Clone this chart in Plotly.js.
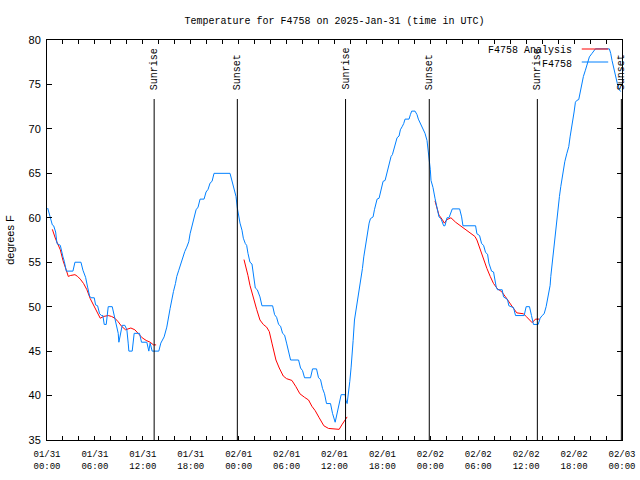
<!DOCTYPE html>
<html><head><meta charset="utf-8">
<script src="https://cdn.plot.ly/plotly-3.0.1.min.js"></script>
<style>html,body{margin:0;padding:0;background:#fff}#chart{width:640px;height:480px}</style>
</head><body><div id="chart"></div>
<script>
// ---- Data ----
const blueTime = [
"2025-01-31 00:05","2025-01-31 00:20","2025-01-31 00:40","2025-01-31 00:50","2025-01-31 01:05","2025-01-31 01:15","2025-01-31 01:40","2025-01-31 02:00","2025-01-31 02:10","2025-01-31 02:25",
"2025-01-31 03:15","2025-01-31 03:30","2025-01-31 04:15","2025-01-31 04:30","2025-01-31 04:50","2025-01-31 05:05","2025-01-31 05:20","2025-01-31 05:30","2025-01-31 05:55","2025-01-31 06:05",
"2025-01-31 06:20","2025-01-31 06:35","2025-01-31 06:50","2025-01-31 07:00","2025-01-31 07:10","2025-01-31 07:25","2025-01-31 07:40","2025-01-31 08:10","2025-01-31 08:25","2025-01-31 08:40",
"2025-01-31 08:55","2025-01-31 09:00","2025-01-31 09:15","2025-01-31 09:25","2025-01-31 09:45","2025-01-31 10:00","2025-01-31 10:10","2025-01-31 10:15","2025-01-31 10:40","2025-01-31 10:55",
"2025-01-31 11:35","2025-01-31 11:50","2025-01-31 12:30","2025-01-31 12:45","2025-01-31 12:55","2025-01-31 13:10","2025-01-31 14:00","2025-01-31 14:15","2025-01-31 14:40","2025-01-31 15:00",
"2025-01-31 15:25","2025-01-31 15:35","2025-01-31 15:50","2025-01-31 16:05","2025-01-31 16:15","2025-01-31 16:30","2025-01-31 16:45","2025-01-31 17:00","2025-01-31 17:15","2025-01-31 17:30",
"2025-01-31 17:45","2025-01-31 17:55","2025-01-31 18:10","2025-01-31 18:25","2025-01-31 18:40","2025-01-31 18:55","2025-01-31 19:10","2025-01-31 19:40","2025-01-31 19:55","2025-01-31 20:10",
"2025-01-31 20:25","2025-01-31 20:40","2025-01-31 20:55","2025-01-31 22:55","2025-01-31 23:10","2025-01-31 23:25","2025-01-31 23:40","2025-01-31 23:50",
"2025-02-01 00:00","2025-02-01 00:10","2025-02-01 00:25","2025-02-01 00:35","2025-02-01 00:50","2025-02-01 01:00","2025-02-01 01:10","2025-02-01 01:25","2025-02-01 01:40","2025-02-01 01:50",
"2025-02-01 02:05","2025-02-01 02:20","2025-02-01 02:40","2025-02-01 02:55","2025-02-01 04:15","2025-02-01 04:30","2025-02-01 04:45","2025-02-01 05:00","2025-02-01 05:15","2025-02-01 05:30",
"2025-02-01 05:45","2025-02-01 06:00","2025-02-01 06:15","2025-02-01 06:30","2025-02-01 07:30","2025-02-01 07:45","2025-02-01 08:00","2025-02-01 08:15","2025-02-01 09:00","2025-02-01 09:15",
"2025-02-01 09:45","2025-02-01 10:00","2025-02-01 10:15","2025-02-01 10:30","2025-02-01 10:45","2025-02-01 11:00","2025-02-01 11:30","2025-02-01 11:45","2025-02-01 12:05","2025-02-01 12:20",
"2025-02-01 12:35","2025-02-01 12:50","2025-02-01 13:20","2025-02-01 13:25","2025-02-01 13:35","2025-02-01 13:45","2025-02-01 13:55","2025-02-01 14:05","2025-02-01 14:10","2025-02-01 14:20",
"2025-02-01 14:30","2025-02-01 14:40","2025-02-01 14:50","2025-02-01 15:00","2025-02-01 15:10","2025-02-01 15:20","2025-02-01 15:30","2025-02-01 15:40","2025-02-01 15:50","2025-02-01 16:00",
"2025-02-01 16:10","2025-02-01 16:20","2025-02-01 16:30","2025-02-01 16:50","2025-02-01 17:00","2025-02-01 17:10","2025-02-01 17:20","2025-02-01 17:35","2025-02-01 17:45","2025-02-01 17:55",
"2025-02-01 18:05","2025-02-01 18:20","2025-02-01 18:30","2025-02-01 18:40","2025-02-01 18:50","2025-02-01 19:05","2025-02-01 19:15","2025-02-01 19:25","2025-02-01 19:40","2025-02-01 19:50",
"2025-02-01 20:05","2025-02-01 20:15","2025-02-01 20:30","2025-02-01 20:40","2025-02-01 20:50","2025-02-01 21:20","2025-02-01 21:30","2025-02-01 21:40","2025-02-01 22:05","2025-02-01 22:20",
"2025-02-01 22:30","2025-02-01 22:40","2025-02-01 22:50","2025-02-01 23:05","2025-02-01 23:20","2025-02-01 23:35","2025-02-01 23:45","2025-02-01 23:50",
"2025-02-02 00:00","2025-02-02 00:05","2025-02-02 00:20","2025-02-02 00:35","2025-02-02 00:50","2025-02-02 01:05","2025-02-02 01:20","2025-02-02 01:35","2025-02-02 01:40","2025-02-02 01:50",
"2025-02-02 02:05","2025-02-02 02:20","2025-02-02 02:35","2025-02-02 02:45","2025-02-02 03:40","2025-02-02 03:55","2025-02-02 04:05","2025-02-02 05:40","2025-02-02 05:50","2025-02-02 06:10",
"2025-02-02 06:25","2025-02-02 06:40","2025-02-02 06:55","2025-02-02 07:10","2025-02-02 07:20","2025-02-02 07:40","2025-02-02 07:55","2025-02-02 08:05","2025-02-02 08:15","2025-02-02 08:25",
"2025-02-02 09:00","2025-02-02 09:10","2025-02-02 09:40","2025-02-02 09:50","2025-02-02 10:25","2025-02-02 10:40","2025-02-02 11:45","2025-02-02 12:00","2025-02-02 12:25","2025-02-02 12:40",
"2025-02-02 12:55","2025-02-02 13:30","2025-02-02 13:45","2025-02-02 14:00","2025-02-02 14:15","2025-02-02 14:30","2025-02-02 14:45","2025-02-02 15:00","2025-02-02 15:05","2025-02-02 15:15",
"2025-02-02 15:25","2025-02-02 15:40","2025-02-02 15:50","2025-02-02 16:00","2025-02-02 16:10","2025-02-02 16:20","2025-02-02 16:30","2025-02-02 16:40","2025-02-02 16:50","2025-02-02 17:05",
"2025-02-02 17:20","2025-02-02 17:30","2025-02-02 17:40","2025-02-02 17:50","2025-02-02 18:00","2025-02-02 18:10","2025-02-02 18:20","2025-02-02 18:35","2025-02-02 18:45","2025-02-02 18:55",
"2025-02-02 19:10","2025-02-02 19:25","2025-02-02 19:40","2025-02-02 19:55","2025-02-02 20:15","2025-02-02 20:40","2025-02-02 22:25","2025-02-02 22:35","2025-02-02 22:45","2025-02-02 23:00",
"2025-02-02 23:15","2025-02-02 23:25","2025-02-02 23:40","2025-02-02 23:50"
];
const blueTemp = [
61.1,60.3,59.2,59.1,58.4,57.1,56.9,55.6,55.1,54.0,
54.0,55.0,55.0,54.1,53.3,52.2,51.2,51.0,51.0,50.2,
50.1,49.2,49.0,49.0,48.0,48.0,50.0,50.0,49.1,48.0,
47.0,46.0,47.0,47.9,47.9,47.4,45.9,45.0,45.0,47.0,
47.0,46.0,46.0,45.0,45.9,45.0,45.0,45.9,46.6,47.7,
49.8,50.7,51.7,52.6,53.4,54.1,54.9,55.4,56.2,56.7,
57.3,58.2,59.2,60.1,60.9,61.2,62.1,62.1,62.9,63.2,
63.9,64.1,65.0,65.0,64.1,63.3,62.4,61.1,
60.2,59.4,58.6,57.7,57.1,56.9,56.0,55.0,54.8,53.6,
52.1,51.9,51.1,50.1,50.1,49.1,48.8,48.0,47.8,47.0,
46.8,45.9,44.8,44.0,44.0,43.1,42.8,42.0,42.0,43.0,
43.0,42.0,41.8,40.8,40.2,39.1,39.1,38.0,37.0,38.1,
39.3,40.1,40.1,39.5,39.1,40.2,41.6,43.2,44.6,46.2,
48.5,49.4,50.4,51.5,52.4,53.4,54.3,55.6,56.6,57.5,
58.4,59.4,59.9,60.1,60.9,61.6,62.1,62.2,62.9,63.5,
64.1,64.2,64.8,65.6,66.2,66.9,67.1,67.6,68.4,69.0,
69.2,69.9,70.3,70.6,71.1,71.1,71.6,72.0,72.0,71.6,
71.1,70.8,70.4,69.9,69.5,68.7,67.6,66.5,
65.4,64.2,63.4,62.2,61.2,60.1,59.9,59.4,59.1,59.1,
60.0,60.0,60.5,61.0,61.0,60.1,59.1,59.1,58.2,58.0,
57.1,56.9,56.1,55.9,54.9,54.0,53.9,53.0,52.2,51.9,
51.9,51.1,50.8,50.1,49.9,49.0,49.0,50.0,50.0,49.0,
48.0,48.0,48.7,49.0,49.2,50.0,51.2,52.4,53.4,54.9,
56.4,57.9,59.4,61.0,62.4,63.5,64.6,65.7,66.3,67.2,
68.0,69.1,69.9,71.0,71.9,73.0,73.2,73.3,74.0,75.1,
75.9,76.6,77.4,78.1,78.5,79.0,79.0,78.5,77.7,76.6,
75.9,75.1,74.4,74.2
];

const redTime = [
"2025-01-31 00:40","2025-01-31 01:05","2025-01-31 01:40","2025-01-31 02:00","2025-01-31 02:25","2025-01-31 02:40","2025-01-31 02:55","2025-01-31 03:30","2025-01-31 03:50","2025-01-31 04:10",
"2025-01-31 04:35","2025-01-31 05:00","2025-01-31 05:25","2025-01-31 05:50","2025-01-31 06:15","2025-01-31 06:40","2025-01-31 07:05","2025-01-31 07:40","2025-01-31 08:05","2025-01-31 08:30",
"2025-01-31 08:55","2025-01-31 09:20","2025-01-31 09:50","2025-01-31 10:30","2025-01-31 11:00","2025-01-31 11:30","2025-01-31 11:55","2025-01-31 12:25","2025-01-31 12:55","2025-01-31 13:20",
"2025-01-31 13:40","2025-01-31 18:00",
"2025-02-01 00:40","2025-02-01 00:55","2025-02-01 01:10","2025-02-01 01:25","2025-02-01 01:40","2025-02-01 01:55","2025-02-01 02:15","2025-02-01 02:40","2025-02-01 03:05","2025-02-01 03:30",
"2025-02-01 03:50","2025-02-01 04:10","2025-02-01 04:25","2025-02-01 04:40","2025-02-01 05:05","2025-02-01 05:35","2025-02-01 06:00","2025-02-01 06:40","2025-02-01 07:10","2025-02-01 07:40",
"2025-02-01 08:15","2025-02-01 08:45","2025-02-01 09:10","2025-02-01 09:35","2025-02-01 10:05","2025-02-01 10:40","2025-02-01 11:15","2025-02-01 12:35","2025-02-01 12:55","2025-02-01 13:15",
"2025-02-01 13:35","2025-02-01 18:00",
"2025-02-02 00:35","2025-02-02 00:50","2025-02-02 01:05","2025-02-02 01:30","2025-02-02 01:45","2025-02-02 02:05","2025-02-02 02:35","2025-02-02 03:10","2025-02-02 03:45","2025-02-02 04:20",
"2025-02-02 05:00","2025-02-02 05:35","2025-02-02 05:50","2025-02-02 06:15","2025-02-02 06:40","2025-02-02 07:05","2025-02-02 07:30","2025-02-02 07:55","2025-02-02 08:25","2025-02-02 08:55",
"2025-02-02 09:25","2025-02-02 09:55","2025-02-02 10:25","2025-02-02 10:50","2025-02-02 11:40","2025-02-02 12:00","2025-02-02 12:25","2025-02-02 12:45","2025-02-02 13:10","2025-02-02 13:40"
];
const redTemp = [
58.7,57.6,56.4,55.2,54.1,53.4,53.5,53.6,53.4,53.1,
52.6,51.9,50.9,50.2,49.4,48.7,48.9,49.0,48.9,48.7,
48.3,47.8,47.4,47.6,47.4,46.9,46.5,46.2,46.0,45.7,
45.7,null,
55.3,54.5,53.5,52.4,51.5,50.7,49.7,48.5,48.0,47.7,
47.2,45.9,44.9,44.0,43.1,42.2,41.9,41.7,41.0,40.2,
39.8,39.5,38.8,38.3,37.5,36.6,36.3,36.2,36.7,37.2,
37.6,null,
61.9,61.1,60.3,59.8,59.4,59.8,60.0,59.5,59.1,58.7,
58.3,57.9,57.5,56.4,55.2,54.3,53.4,52.6,52.0,51.7,
51.1,50.4,49.8,49.3,49.2,48.9,48.5,48.2,48.6,48.6
];

const sunTimes = ["2025-01-31 13:25","2025-01-31 23:50","2025-02-01 13:23","2025-02-01 23:52","2025-02-02 13:24","2025-02-02 23:55"];
const sunLabels = ["Sunrise","Sunset","Sunrise","Sunset","Sunrise","Sunset"];

const seriesNames = ["F4758 Analysis","F4758"];
const seriesColors = ["#ff0000","#0080ff"];

// ---- Chart ----
const MONO = '"Liberation Mono", "DejaVu Sans Mono", monospace';
const SANS = '"Liberation Sans", Arial, sans-serif';

const traces = [
  {x: redTime, y: redTemp, type:'scatter', mode:'lines', name: seriesNames[0],
   line:{color: seriesColors[0], width:1}, connectgaps:false, hoverinfo:'skip'},
  {x: blueTime, y: blueTemp, type:'scatter', mode:'lines', name: seriesNames[1],
   line:{color: seriesColors[1], width:1}, hoverinfo:'skip'}
];

const shapes = [];
const annotations = [];
sunTimes.forEach((t, i) => {
  shapes.push({type:'line', xref:'x', yref:'paper', x0:t, x1:t, y0:0, y1:0.8525,
               line:{color:'#000', width:1}});
  annotations.push({xref:'x', yref:'paper', x:t, y:0.87, text:sunLabels[i], showarrow:false,
                    textangle:-90, xanchor:'center', yanchor:'bottom',
                    font:{family:MONO, size:10, color:'#000'}});
});
// legend (text left of sample line, as in reference)
const legLineY = [0.9775, 0.945];
const legTextY = [0.9725, 0.94];
seriesNames.forEach((n, i) => {
  annotations.push({xref:'paper', yref:'paper', x:0.9165, y:legTextY[i], text:n, showarrow:false,
                    xanchor:'right', yanchor:'middle', font:{family:MONO, size:10, color:'#000'}});
  shapes.push({type:'line', xref:'paper', yref:'paper', x0:0.930, x1:0.976, y0:legLineY[i], y1:legLineY[i],
               line:{color:seriesColors[i], width:1}});
});

const layout = {
  width:640, height:480,
  margin:{l:47, r:18, t:40, b:40, pad:0},
  paper_bgcolor:'#fff', plot_bgcolor:'#fff',
  showlegend:false,
  title:{text:'Temperature for F4758 on 2025-Jan-31 (time in UTC)',
         font:{family:MONO, size:10, color:'#000'},
         x:0.5, xref:'paper', xanchor:'center', y:1-20/480, yref:'container', yanchor:'middle'},
  xaxis:{type:'date', range:['2025-01-31 00:00','2025-02-03 00:00'],
         tick0:'2025-01-31 00:00', dtick:6*3600000, tickformat:'%m/%d<br>%H:%M',
         ticks:'inside', ticklen:4, tickcolor:'#000', tickwidth:1,
         showline:true, linecolor:'#000', linewidth:1, mirror:'ticks',
         showgrid:false, zeroline:false, ticklabelstandoff:5,
         tickfont:{family:MONO, size:9, color:'#000'},
         minor:{dtick:2*3600000, ticks:'inside', ticklen:4, tickcolor:'#000', showgrid:false}},
  yaxis:{range:[35,80], tick0:35, dtick:5,
         ticks:'inside', ticklen:5, tickcolor:'#000', tickwidth:1,
         showline:true, linecolor:'#000', linewidth:1, mirror:'ticks',
         showgrid:false, zeroline:false, ticklabelstandoff:3,
         tickfont:{family:SANS, size:11, color:'#000'},
         title:{text:'degrees F', font:{family:SANS, size:11, color:'#000'}, standoff:11}},
  shapes: shapes,
  annotations: annotations
};

Plotly.newPlot('chart', traces, layout, {displayModeBar:false, staticPlot:true});
</script></body></html>
